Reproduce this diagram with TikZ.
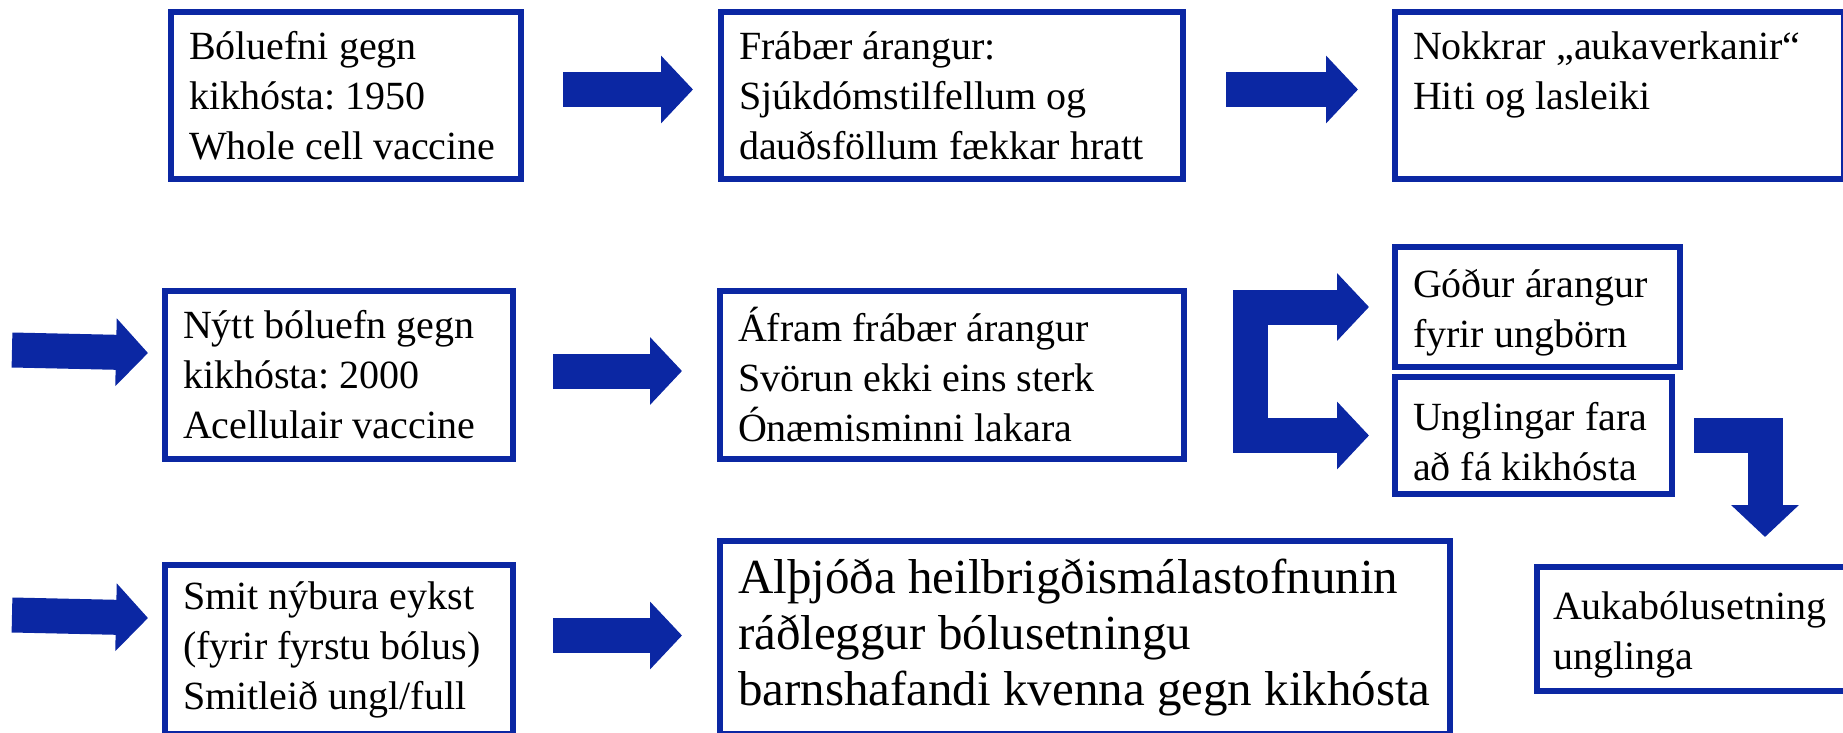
\documentclass[tikz,border=0pt]{standalone}
\usepackage{fontspec}
\setmainfont{Liberation Serif}
\usetikzlibrary{positioning,arrows.meta,calc}
\definecolor{vblue}{RGB}{11,39,163}
\tikzstyle{vbox}=[rectangle, draw=vblue, line width=3pt, fill=white, inner xsep=9pt, inner ysep=0pt, align=flush left, anchor=north west, font=\fontsize{20pt}{25pt}\selectfont\frenchspacing]
\tikzstyle{bigbox}=[vbox, font=\fontsize{24.5pt}{28pt}\selectfont\frenchspacing]
\tikzstyle{barrow}=[draw=vblue, line width=17.5pt, -{Triangle[width=33pt,length=16pt]}]
\tikzstyle{barrows}=[barrow, {Triangle[width=33pt,length=16pt]}-{Triangle[width=33pt,length=16pt]}]

\begin{document}
\begin{tikzpicture}[x=1pt,y=-1pt]
\useasboundingbox (0,0) rectangle (921.5,366.5);
% row 1
\node (B1) [vbox, text width=157pt, minimum height=83.5pt] at (84,4.5) {B\'oluefni gegn\\kikh\'osta: 1950\\Whole cell vaccine};
\node (B2) [vbox, text width=213pt, minimum height=83.5pt] at (359,4.5) {Frábær árangur:\\Sjúkdómstilfellum og\\dauðsföllum fækkar hratt};
\node (B3) [vbox, text width=206.5pt, minimum height=83.5pt] at (696,4.5) {Nokkrar „aukaverkanir“\\Hiti og lasleiki\\\mbox{}};
 \draw[barrow] ([xshift=19.5pt,yshift=3pt]B1.east) -- ([xshift=-12.5pt,yshift=3pt]B2.west);
 \draw[barrow] ([xshift=20pt,yshift=3pt]B2.east) -- ([xshift=-17pt,yshift=3pt]B3.west);
% row 2
\node (B4) [vbox, text width=156pt, minimum height=84pt] at (81,144) {Nýtt bóluefn gegn\\kikhósta: 2000\\Acellulair vaccine};
\node (B5) [vbox, text width=214pt, minimum height=84pt] at (358.5,144) {Áfram frábær árangur\\Svörun ekki eins sterk\\Ónæmisminni lakara};
\node (B6) [vbox, text width=124.5pt, text height=20pt, minimum height=60pt] at (696,122) {Góður árangur\\fyrir ungbörn};
\node (B7) [vbox, text width=120.5pt, text height=20pt, minimum height=58.5pt] at (696,187) {Unglingar fara\\að fá kikhósta};
\node (B8) [vbox, inner xsep=8pt, text width=145pt, text height=20pt, minimum height=62pt] at (767,282) {Aukabólusetning\\unglinga};
\coordinate (in2) at (6,175);
\coordinate (fork) at (625,0);
\coordinate (bend) at ([xshift=33.5pt,yshift=13.5pt]B8.north);
 \draw[barrow] (in2) -- ([xshift=-7pt,yshift=11pt]B4.west);
 \draw[barrow] ([xshift=18.5pt,yshift=2pt]B4.east) -- ([xshift=-17.5pt,yshift=2pt]B5.west);
 \draw[barrows] ([xshift=-11.5pt]B6.west) -- (B6.west -| fork) -- (B7.west -| fork) -- ([xshift=-11.5pt]B7.west);
 \draw[barrow] ([xshift=9.5pt]B7.east) -| (bend);
% row 3
\node (B9) [vbox, text width=156pt, minimum height=84.5pt] at (81,281) {Smit nýbura eykst\\(fyrir fyrstu bólus)\\Smitleið ungl/full};
\node (B10) [bigbox, text width=347pt, minimum height=96.5pt] at (358.5,269) {Alþjóða heilbrigðismálastofnunin\\ráðleggur bólusetningu\\barnshafandi kvenna gegn kikhósta};
\coordinate (in3) at (6,307.5);
 \draw[barrow] (in3) -- ([xshift=-7pt,yshift=15.75pt]B9.west);
 \draw[barrow] ([xshift=18.5pt,yshift=7pt]B9.east) coordinate (a3) -- ($(B10.west |- a3)+(-17.5,0)$);
\end{tikzpicture}
\end{document}
